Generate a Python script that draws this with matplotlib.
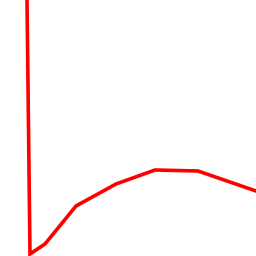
import matplotlib
matplotlib.use("Agg")
import matplotlib.pyplot as plt

x = [27, 30, 45, 76, 116, 155, 198, 256]
y = [0, 254, 244, 206, 184, 170, 171, 191]

fig = plt.figure(figsize=(2.56, 2.56), dpi=100)
ax = fig.add_axes([0, 0, 1, 1])
ax.plot(x, y, color="#ff0000", linewidth=2.6, solid_joinstyle="miter")
ax.set_xlim(0, 256)
ax.set_ylim(256, 0)
ax.axis("off")
fig.savefig("out.png", dpi=100, facecolor="white")
